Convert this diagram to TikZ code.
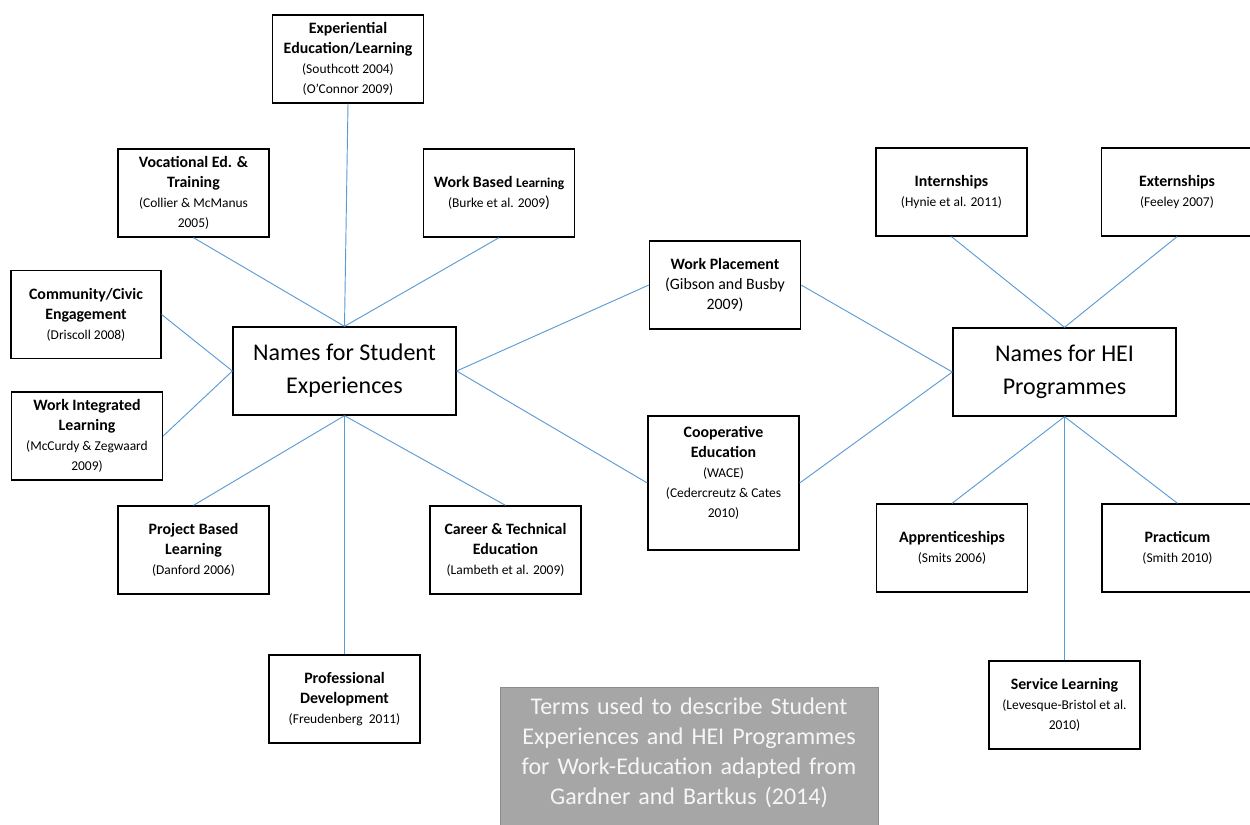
\documentclass[tikz,border=0pt]{standalone}
\usepackage{fontspec}
\setmainfont{Carlito}
\usepackage{xcolor}
\definecolor{linkBlue}{RGB}{91, 155, 213}
\definecolor{noteGray}{RGB}{166, 166, 166}
\definecolor{noteEdge}{RGB}{140, 140, 140}
\definecolor{noteText}{RGB}{246, 246, 246}
\usepackage{tikz}
\newcommand{\hd}[1]{{\fontsize{11.9}{15.5}\selectfont\bfseries #1}}

\begin{document}
\begin{tikzpicture}[x=0.75pt, y=-0.75pt,
  term/.style={rectangle, draw=black, line width=1pt, fill=white,
               minimum width=113.25pt, minimum height=66pt,
               align=center, inner sep=2pt, font=\fontsize{10.1}{15}\selectfont},
  hub/.style={rectangle, draw=black, line width=1pt, fill=white,
              minimum width=167.25pt, minimum height=66pt,
              align=center, font=\fontsize{18}{24.75}\selectfont},
  note/.style={rectangle, draw=noteEdge, fill=noteGray, text=noteText,
               text width=283.5pt, inner xsep=0pt, inner ysep=8pt, text depth=110pt,
               align=center, font=\fontsize{18}{22.5}\selectfont},
  link/.style={draw=linkBlue, line width=0.7pt},
]
  \clip (0,0) rectangle (1250,825);

  % student side
  \node[hub] (student) at (344.5,371) {Names for Student\\Experiences};

  \node[term] (exper) at (348,59) {\hd{Experiential}\\\hd{Education/Learning}\\
    (Southcott 2004)\\(O'Connor 2009)};
  \node[term] (voc) at (193.5,193) {\hd{Vocational Ed. \&}\\\hd{Training}\\
    (Collier \& McManus\\2005)};
  \node[term] (wbl) at (499,193) {\hd{Work Based {\fontsize{10.1}{15}\selectfont Learning}}\\
    (Burke et al. 2009{\fontsize{11.9}{15}\selectfont)}};
  \node[term, minimum width=112.5pt] (comm) at (86,314.5) {\hd{Community/Civic}\\\hd{Engagement}\\
    (Driscoll 2008)};
  \node[term] (wil) at (87,436) {\hd{Work Integrated}\\\hd{Learning}\\
    (McCurdy \& Zegwaard\\2009)};
  \node[term] (proj) at (193.5,550) {\hd{Project Based}\\\hd{Learning}\\
    (Danford 2006)};
  \node[term] (career) at (505.5,550) {\hd{Career \& Technical}\\\hd{Education}\\
    (Lambeth et al. 2009)};
  \node[term] (prof) at (344.5,699) {\hd{Professional}\\\hd{Development}\\
    (Freudenberg\ \ 2011)};

  % shared terms
  \node[term] (wp) at (725,285) {\hd{Work Placement}\\
    {\fontsize{11.9}{15.5}\selectfont (Gibson and Busby}\\{\fontsize{11.9}{15.5}\selectfont 2009)}};
  \node[term, minimum height=100.5pt, text depth=17pt] (coop) at (723.5,483) {\hd{Cooperative}\\\hd{Education}\\
    (WACE)\\(Cedercreutz \& Cates\\2010)};

  % HEI side
  \node[hub] (hei) at (1064.5,372) {Names for HEI\\Programmes};

  \node[term] (intern) at (951.5,192) {\hd{Internships}\\(Hynie et al. 2011)};
  \node[term] (extern) at (1177,192) {\hd{Externships}\\(Feeley 2007)};
  \node[term] (appr) at (952,548) {\hd{Apprenticeships}\\(Smits 2006)};
  \node[term] (prac) at (1177.5,548) {\hd{Practicum}\\(Smith 2010)};
  \node[term] (serv) at (1064.5,705) {\hd{Service Learning}\\
    (Levesque-Bristol et al.\\2010)};

  \node[note, anchor=north] (caption) at (689,687) {Terms used to describe Student\\
    Experiences and HEI Programmes\\for Work-Education adapted from\\Gardner and Bartkus (2014)};

  \draw[link] (exper.south) -- (student.north);
  \draw[link] (voc.south) -- (student.north);
  \draw[link] (wbl.south) -- (student.north);
  \draw[link] (comm.east) -- (student.west);
  \draw[link] (wil.east) -- (student.west);
  \draw[link] (proj.north) -- (student.south);
  \draw[link] (career.north) -- (student.south);
  \draw[link] (prof.north) -- (student.south);
  \draw[link] (wp.west) -- (student.east);
  \draw[link] (coop.west) -- (student.east);
  \draw[link] (wp.east) -- (hei.west);
  \draw[link] (coop.east) -- (hei.west);
  \draw[link] (intern.south) -- (hei.north);
  \draw[link] (extern.south) -- (hei.north);
  \draw[link] (appr.north) -- (hei.south);
  \draw[link] (prac.north) -- (hei.south);
  \draw[link] (serv.north) -- (hei.south);
\end{tikzpicture}
\end{document}
